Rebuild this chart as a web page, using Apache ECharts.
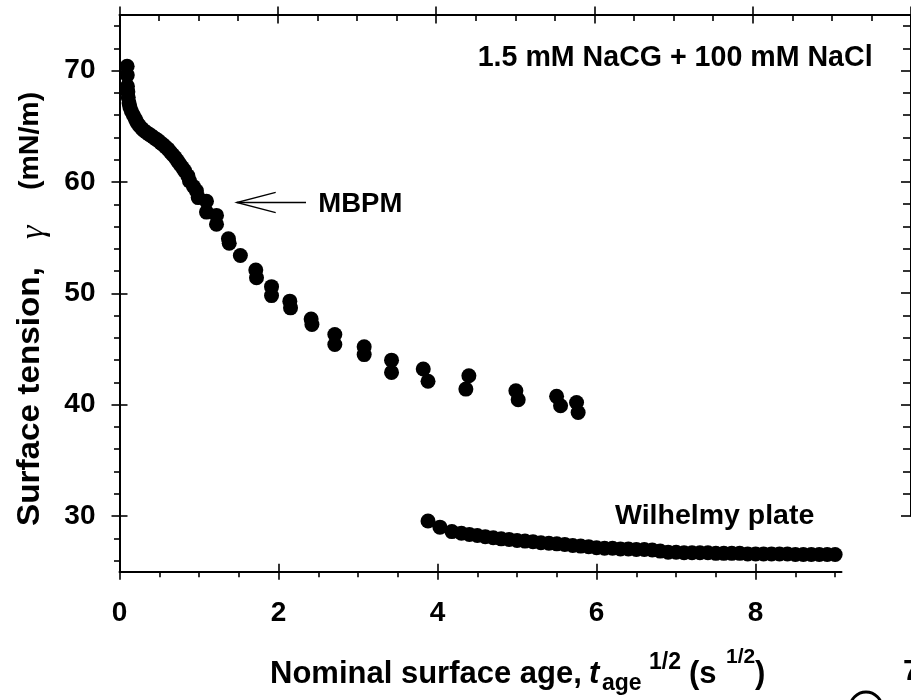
<!DOCTYPE html>
<html>
<head>
<meta charset="utf-8">
<script src="https://cdn.jsdelivr.net/npm/echarts@6/dist/echarts.min.js"></script>
<style>
html,body{margin:0;padding:0;background:#fff;}
#chart{width:911px;height:700px;}
</style>
</head>
<body>
<div id="chart"></div>
<script>
// ---- data ----
const mbpmX = [0.096,0.098,0.100,0.105,0.110,0.120,0.130,0.150,0.175,0.200,
  0.220,0.250,0.280,0.310,0.340,0.370,0.400,0.430,0.460,0.490,
  0.520,0.550,0.580,0.610,0.640,0.670,0.700,0.730,0.760,0.790,
  0.820,0.860,0.880,0.930,0.968,0.990,1.094,1.094,1.220,1.220,
  1.370,1.380,1.520,1.714,1.723,1.912,1.912,2.142,2.151,2.410,
  2.420,2.708,2.708,3.077,3.077,3.421,3.421,3.820,3.880,4.394,
  4.356,4.985,5.014,5.497,5.547,5.748,5.768];
const mbpmY = [70.4,69.6,68.6,68.1,67.6,67.1,66.75,66.35,66.0,65.65,
  65.35,65.05,64.8,64.6,64.45,64.3,64.15,64.0,63.85,63.7,
  63.5,63.35,63.15,62.95,62.7,62.45,62.2,61.9,61.6,61.3,
  61.0,60.55,60.1,59.6,59.2,58.6,58.27,57.3,57.0,56.2,
  54.9,54.5,53.4,52.1,51.4,50.6,49.8,49.3,48.7,47.7,
  47.2,46.3,45.4,45.2,44.5,44.0,42.9,43.2,42.1,42.6,
  41.4,41.25,40.45,40.75,39.9,40.2,39.3];
const wilhX = [3.88,4.03,4.18,4.30,4.40,4.50,4.60,4.70,4.80,4.90,
  5.00,5.10,5.20,5.30,5.40,5.50,5.60,5.70,5.80,5.90,
  6.00,6.10,6.20,6.30,6.40,6.50,6.60,6.70,6.80,6.90,
  7.00,7.10,7.20,7.30,7.40,7.50,7.60,7.70,7.80,7.90,
  8.00,8.10,8.20,8.30,8.40,8.50,8.60,8.70,8.80,8.90,9.00];
const wilhY = [29.55,29.0,28.6,28.45,28.35,28.25,28.15,28.05,27.95,27.9,
  27.8,27.75,27.7,27.6,27.55,27.5,27.45,27.35,27.3,27.25,
  27.15,27.1,27.1,27.05,27.05,27.0,27.0,26.95,26.85,26.75,
  26.75,26.7,26.7,26.7,26.7,26.65,26.65,26.65,26.65,26.6,
  26.6,26.6,26.6,26.6,26.6,26.55,26.55,26.55,26.55,26.55,26.55];
const xMajorTicks = [0,2,4,6,8];
const xMinorTicks = [0.5,1,1.5,2.5,3,3.5,4.5,5,5.5,6.5,7,7.5,8.5,9];
const xTopMajor = [0,2,4,6,8,10];
const xTopMinor = [0.5,1,1.5,2.5,3,3.5,4.5,5,5.5,6.5,7,7.5,8.5,9,9.5];
const yMajorTicks = [30,40,50,60,70];
const yMinorTicks = [26,28,32,34,36,38,42,44,46,48,52,54,56,58,62,64,66,68,72,74];
const yRightMinor = [32,34,36,38,42,44,46,48,52,54,56,58,62,64,66,68,72,74];

const chart = echarts.init(document.getElementById('chart'), null, {renderer:'canvas'});
const FONT = '"Liberation Sans", Arial, Helvetica, sans-serif';
const lineS = {color:'#000', width:2};
const tickS = {color:'#000', width:1.6};

function xAx(grid, pos, max, line, tickVals, len, inside, labels) {
  return {
    type:'value', gridIndex:grid, position:pos, min:0, max:max,
    axisLine:{show:line, onZero:false, lineStyle:lineS},
    axisTick:{show:true, inside:inside, length:len, lineStyle:tickS, customValues:tickVals},
    axisLabel: labels ? {show:true, customValues:xMajorTicks, margin:28, color:'#000',
        fontFamily:FONT, fontWeight:'bold', fontSize:28} : {show:false},
    splitLine:{show:false}, minorTick:{show:false}
  };
}
function yAx(grid, pos, min, line, tickVals, len, inside, labels) {
  return {
    type:'value', gridIndex:grid, position:pos, min:min, max:75,
    axisLine:{show:line, onZero:false, lineStyle:lineS},
    axisTick:{show:true, inside:inside, length:len, lineStyle:tickS, customValues:tickVals},
    axisLabel: labels ? {show:true, customValues:yMajorTicks, margin:24, color:'#000',
        fontFamily:FONT, fontWeight:'bold', fontSize:28} : {show:false},
    splitLine:{show:false}, minorTick:{show:false}
  };
}

const option = {
  backgroundColor:'#fff',
  animation:false,
  grid:[
    {left:119.5, top:15, width:722, height:556.7},
    {left:119.5, top:15, width:795, height:500.8}
  ],
  xAxis:[
    xAx(0,'bottom',9.08,true,xMajorTicks,8,false,true),
    xAx(0,'bottom',9.08,false,xMajorTicks,8,true,false),
    xAx(0,'bottom',9.08,false,xMinorTicks,5.5,false,false),
    xAx(1,'top',10,true,xTopMajor,8.5,true,false),
    xAx(1,'top',10,false,xTopMajor,8.5,false,false),
    xAx(1,'top',10,false,xTopMinor,6,true,false)
  ],
  yAxis:[
    yAx(0,'left',25,true,yMajorTicks,8,false,true),
    yAx(0,'left',25,false,yMajorTicks,8,true,false),
    yAx(0,'left',25,false,yMinorTicks,5.5,false,false),
    yAx(1,'right',30,true,yMajorTicks.concat([]),10,true,false),
    yAx(1,'right',30,false,yRightMinor,8,true,false)
  ],
  series:[
    {name:'MBPM', type:'scatter', xAxisIndex:0, yAxisIndex:0,
     symbol:'circle', symbolSize:15, itemStyle:{color:'#000', opacity:1},
     data: mbpmX.map((x,i)=>[x, mbpmY[i]])},
    {name:'Wilhelmy plate', type:'scatter', xAxisIndex:0, yAxisIndex:0,
     symbol:'circle', symbolSize:15, itemStyle:{color:'#000', opacity:1},
     data: wilhX.map((x,i)=>[x, wilhY[i]])}
  ],
  graphic:[
    {type:'text', x:477.7, y:58, style:{text:'1.5 mM NaCG + 100 mM NaCl', font:'bold 28.6px '+FONT, fill:'#000', align:'left', verticalAlign:'middle'}},
    {type:'text', x:318.3, y:204, style:{text:'MBPM', font:'bold 27.5px '+FONT, fill:'#000', align:'left', verticalAlign:'middle'}},
    {type:'text', x:615, y:516, style:{text:'Wilhelmy plate', font:'bold 28.5px '+FONT, fill:'#000', align:'left', verticalAlign:'middle'}},
    {type:'polyline', shape:{points:[[236.7,202.5],[306,202.5]]}, style:{stroke:'#000', lineWidth:1.3, fill:null}},
    {type:'polyline', shape:{points:[[275.7,192.3],[236.7,202.5],[275.7,212.7]]}, style:{stroke:'#000', lineWidth:1.3, fill:null}},
    // x axis title
    {type:'text', x:270, y:674.5, style:{text:'Nominal surface age, ', font:'bold 31px '+FONT, fill:'#000', align:'left', verticalAlign:'middle'}},
    {type:'text', x:589, y:674.5, style:{text:'t', font:'italic bold 31px '+FONT, fill:'#000', align:'left', verticalAlign:'middle'}},
    {type:'text', x:602, y:684, style:{text:'age', font:'bold 23px '+FONT, fill:'#000', align:'left', verticalAlign:'middle'}},
    {type:'text', x:649, y:663, style:{text:'1/2', font:'bold 23px '+FONT, fill:'#000', align:'left', verticalAlign:'middle'}},
    {type:'text', x:689, y:674.5, style:{text:'(s', font:'bold 31px '+FONT, fill:'#000', align:'left', verticalAlign:'middle'}},
    {type:'text', x:726, y:657.5, style:{text:'1/2', font:'bold 21px '+FONT, fill:'#000', align:'left', verticalAlign:'middle'}},
    {type:'text', x:755, y:674.5, style:{text:')', font:'bold 31px '+FONT, fill:'#000', align:'left', verticalAlign:'middle'}},
    // y axis title (rotated)
    {type:'text', x:30, y:526, rotation:Math.PI/2, scaleX:1.04, style:{text:'Surface tension,', font:'bold 32px '+FONT, fill:'#000', align:'left', verticalAlign:'middle'}},
    {type:'text', x:34, y:239, rotation:Math.PI/2, style:{text:'γ', font:'italic 34px "Liberation Serif", serif', fill:'#000', align:'left', verticalAlign:'middle'}},
    {type:'text', x:30, y:190, rotation:Math.PI/2, style:{text:'(mN/m)', font:'bold 28.5px '+FONT, fill:'#000', align:'left', verticalAlign:'middle'}},
    // fragment of neighbouring panel
    {type:'text', x:903, y:672, style:{text:'7', font:'bold 30px '+FONT, fill:'#000', align:'left', verticalAlign:'middle'}},
    {type:'circle', shape:{cx:866, cy:708, r:16}, style:{stroke:'#000', lineWidth:3, fill:null}}
  ]
};
chart.setOption(option);
</script>
</body>
</html>
